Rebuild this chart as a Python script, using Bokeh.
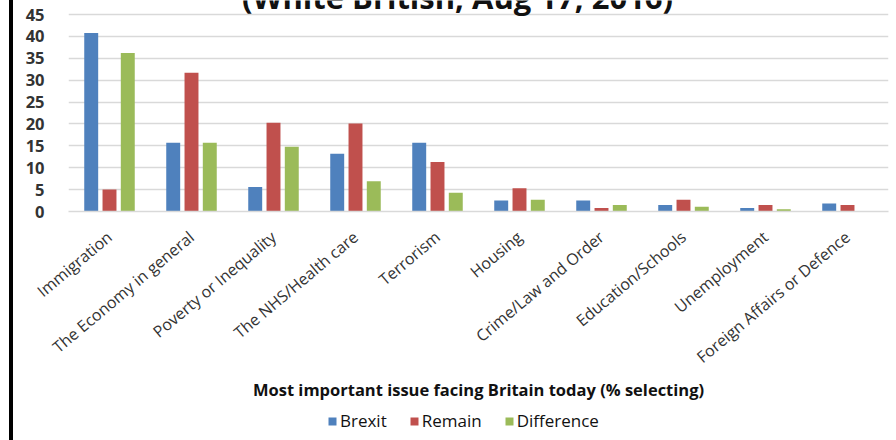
from bokeh.plotting import figure
from bokeh.models import ColumnDataSource, FixedTicker, Label, Legend, LegendItem, Div, Spacer
from bokeh.layouts import row, column
from bokeh.transform import dodge
from bokeh.embed import file_html
from bokeh.resources import INLINE
import math

categories = ["Immigration", "The Economy in general", "Poverty or Inequality",
              "The NHS/Health care", "Terrorism", "Housing", "Crime/Law and Order",
              "Education/Schools", "Unemployment", "Foreign Affairs or Defence"]
brexit = [40.8, 15.7, 5.6, 13.2, 15.7, 2.5, 2.5, 1.5, 0.8, 1.8]
remain = [5.0, 31.7, 20.3, 20.1, 11.3, 5.3, 0.8, 2.7, 1.5, 1.5]
difference = [36.2, 15.7, 14.8, 6.9, 4.3, 2.7, 1.5, 1.1, 0.5, 0.0]
y_ticks = [0, 5, 10, 15, 20, 25, 30, 35, 40, 45]
series = ["Brexit", "Remain", "Difference"]

title_text = "(White British, Aug 17, 2016)"
x_title = "Most important issue facing Britain today (% selecting)"

font = "Open Sans"
colors = ["#4F81BD", "#C0504D", "#9BBB59"]

src = ColumnDataSource(dict(cat=categories, brexit=brexit, remain=remain, difference=difference))

y_top = 48.2  # frame reaches the canvas top; 45 sits 14px below it
p = figure(x_range=categories, y_range=(0, y_top), frame_width=820, frame_height=211,
           output_backend="svg", toolbar_location=None,
           min_border_left=55, min_border_right=8, min_border_top=0, min_border_bottom=0)
p.outline_line_color = None

off = 0.223
w = 0.17
p.vbar(x=dodge("cat", -off, range=p.x_range), top="brexit", width=w, source=src,
       fill_color=colors[0], line_color=None)
p.vbar(x=dodge("cat", 0, range=p.x_range), top="remain", width=w, source=src,
       fill_color=colors[1], line_color=None)
p.vbar(x=dodge("cat", off, range=p.x_range), top="difference", width=w, source=src,
       fill_color=colors[2], line_color=None)

p.x_range.range_padding = 0
p.xgrid.grid_line_color = None
p.ygrid.grid_line_color = "#D9D9D9"
p.ygrid.grid_line_width = 1.5
p.yaxis.ticker = FixedTicker(ticks=y_ticks)

p.yaxis.axis_line_color = None
p.yaxis.major_tick_line_color = None
p.yaxis.minor_tick_line_color = None
p.yaxis.major_label_text_font = font
p.yaxis.major_label_text_font_style = "bold"
p.yaxis.major_label_text_font_size = "16.5px"
p.yaxis.major_label_text_color = "#333333"
p.yaxis.major_label_standoff = 18

p.xaxis.axis_line_color = "#D9D9D9"
p.xaxis.axis_line_width = 1.5
p.xaxis.major_tick_line_color = None
p.xaxis.minor_tick_line_color = None
p.xaxis.major_label_orientation = math.radians(40)
p.xaxis.major_label_text_font = font
p.xaxis.major_label_text_font_size = "16px"
p.xaxis.major_label_text_color = "#333333"
p.xaxis.major_label_standoff = 17
p.xaxis.axis_label = x_title
p.xaxis.axis_label_text_font = font
p.xaxis.axis_label_text_font_style = "bold"
p.xaxis.axis_label_text_font_size = "16.5px"
p.xaxis.axis_label_text_color = "#111111"
p.xaxis.axis_label_standoff = -1

# partial title at the top, cut by the canvas edge
p.add_layout(Label(x=389, y=49.1, x_units="screen", y_units="data", text=title_text,
                   text_font=font, text_font_style="bold", text_font_size="31px",
                   text_align="center", text_baseline="alphabetic", text_color="#111111"))

# legend strip below the chart (its glyph renderers have zero height)
lg = figure(width=883, height=38, output_backend="svg", toolbar_location=None,
            x_range=(0, 1), y_range=(0, 1), x_axis_type=None, y_axis_type=None,
            min_border_left=0, min_border_right=0, min_border_top=0, min_border_bottom=0)
lg.outline_line_color = None
lg.xgrid.grid_line_color = None
lg.ygrid.grid_line_color = None
lg.background_fill_color = "white"
lg.border_fill_color = "white"
rs = []
for name, c in zip(series, colors):
    rs.append(lg.vbar(x=[0.5], top=[0], bottom=[0], width=0.0, fill_color=c, line_color=None))
legend = Legend(items=[LegendItem(label=n, renderers=[r]) for n, r in zip(series, rs)],
                orientation="horizontal", location=(259, 10),
                glyph_width=10, glyph_height=10, label_standoff=3, spacing=22,
                padding=0, margin=0, border_line_color=None, background_fill_alpha=0,
                label_text_font=font, label_text_font_size="17px", label_text_color="#111111",
                label_height=18)
lg.add_layout(legend, "center")

border = Div(width=4, height=440, margin=0, styles={"background-color": "black"})
layout = row(Spacer(width=9, height=440, margin=0), border,
             column(p, lg, spacing=0, margin=0), spacing=0, margin=0)

open("out.html", "w").write(file_html(layout, INLINE))
